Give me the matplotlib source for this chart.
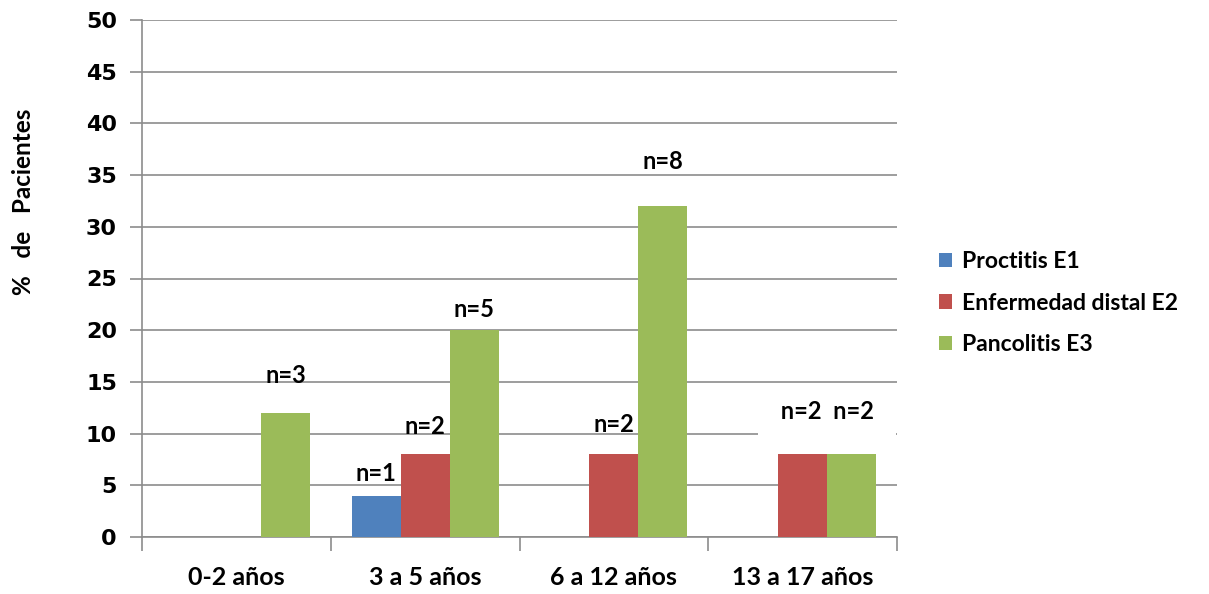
import numpy as np
import matplotlib
matplotlib.use("Agg")
import matplotlib.pyplot as plt
from matplotlib.ticker import FixedLocator

# ─── Data ─────────────────────────────────────────────────────────────────────

GROUPS = ["0-2 años", "3 a 5 años", "6 a 12 años", "13 a 17 años"]
SERIES = ["Proctitis E1", "Enfermedad distal E2", "Pancolitis E3"]
COLORS = ["#4F81BD", "#C0504D", "#9BBB59"]

proctitis = [0, 4, 0, 0]
distal = [0, 8, 8, 8]
pancolitis = [12, 20, 32, 8]

# n labels per bar (None = no label) and the height (in %) where each sits
n_proctitis = [None, "n=1", None, None]
n_distal = [None, "n=2", "n=2", "n=2"]
n_pancolitis = ["n=3", "n=5", "n=8", "n=2"]
label_y_proctitis = [0, 6.1, 0, 0]
label_y_distal = [0, 10.7, 10.9, 12.1]
label_y_pancolitis = [15.6, 22.0, 36.3, 12.1]

YTICKS = list(range(0, 55, 5))

# ─── Figure ───────────────────────────────────────────────────────────────────

plt.rcParams["font.family"] = ["Lato", "DejaVu Sans"]
fig = plt.figure(figsize=(12.09, 5.94), dpi=100)
ax = fig.add_axes([142 / 1209, 1 - 537 / 594, (897 - 142) / 1209, (537 - 20) / 594])

x = np.arange(len(GROUPS))
width = 0.26
values = [proctitis, distal, pancolitis]
labels = [n_proctitis, n_distal, n_pancolitis]
label_y = [label_y_proctitis, label_y_distal, label_y_pancolitis]
offsets = [-width, 0, width]

for vals, col, name, off in zip(values, COLORS, SERIES, offsets):
    ax.bar(x + off, vals, width, color=col, label=name, zorder=3)

# n labels; last group has a white box behind both labels
for labs, ly, off in zip(labels, label_y, offsets):
    for i, (lab, yy) in enumerate(zip(labs, ly)):
        if lab is None or i == len(GROUPS) - 1:
            continue
        ax.text(x[i] + off, yy, lab, ha="center", va="center",
                fontsize=17, fontweight="bold", zorder=4)
last = len(GROUPS) - 1
ax.text(x[last] + width / 2, label_y_distal[last],
        " " + n_distal[last] + "  " + n_pancolitis[last] + " ",
        ha="center", va="center", fontsize=17, fontweight="bold", zorder=4,
        bbox=dict(boxstyle="square,pad=0.7", facecolor="white",
                  edgecolor="none"))

ax.set_xlim(-0.5, len(GROUPS) - 0.5)
ax.set_ylim(0, 50)
ax.set_yticks(YTICKS)
ax.set_yticklabels([str(t) for t in YTICKS], family="DejaVu Sans",
                   fontsize=16, fontweight="bold")
ax.grid(axis="y", color="#8C8C8C", linewidth=1.2, zorder=0)

ax.set_xticks(x)
ax.set_xticklabels(GROUPS, fontsize=18, fontweight="bold")
ax.xaxis.set_minor_locator(FixedLocator(np.arange(len(GROUPS) + 1) - 0.5))
ax.tick_params(axis="x", which="major", length=0, pad=21)
ax.tick_params(axis="x", which="minor", length=10, color="#8C8C8C", width=1.2)
ax.tick_params(axis="y", length=9, color="#8C8C8C", width=1.2, pad=9)

for side in ["top", "right"]:
    ax.spines[side].set_visible(False)
for side in ["left", "bottom"]:
    ax.spines[side].set_color("#8C8C8C")
    ax.spines[side].set_linewidth(1.2)

fig.text(24 / 1209, 1 - 202 / 594, "%   de   Pacientes", rotation=90,
         ha="center", va="center", fontsize=17.5, fontweight="bold")

fig.legend(loc="center left", bbox_to_anchor=(918 / 1209, 1 - 303 / 594),
           frameon=False, prop={"weight": "bold", "size": 16.5},
           handlelength=0.6, handleheight=0.6, handletextpad=0.4,
           labelspacing=0.9)

fig.savefig("out.png", dpi=100)
